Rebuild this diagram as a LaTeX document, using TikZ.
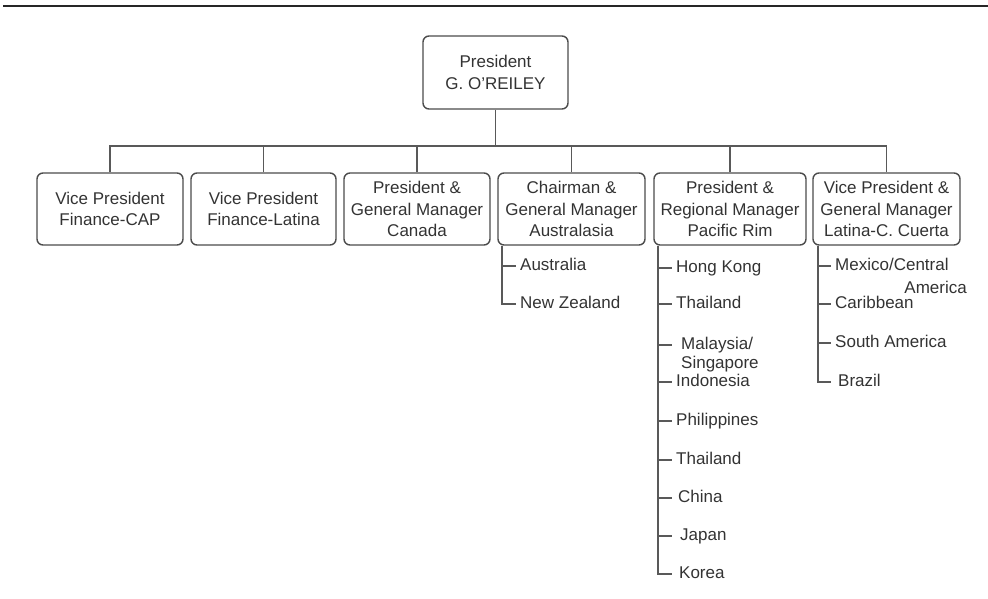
\documentclass[tikz,border=0pt]{standalone}
\usepackage{fontspec}
\setmainfont{Liberation Sans}
\begin{document}
\begin{tikzpicture}[x=1pt,y=-1pt,
  txt/.style={font=\fontsize{17}{21.5}\selectfont, text=black!80},
  box/.style={txt, draw=black!70, line width=1.4pt, rounded corners=6pt, align=center, inner sep=0pt, minimum height=72pt},
  conn/.style={draw=black!65, line width=1.3pt},
  item/.style={txt, anchor=west, inner xsep=4pt, inner ysep=0pt, text height=12pt, text depth=3pt}]
\useasboundingbox (0,0) rectangle (988,599);
\draw[line width=2.4pt, black!85] (3,6) -- (988,6);

\node[box, minimum width=145pt, minimum height=73pt] (top) at (495.5,72.5) {President\\G. O'REILEY};

\node[box, minimum width=146pt] (b1) at (110,209) {Vice President\\Finance-CAP};
\node[box, minimum width=145pt] (b2) at (263.5,209) {Vice President\\Finance-Latina};
\node[box, minimum width=146pt] (b3) at (417,209) {President \&\\General Manager\\Canada};
\node[box, minimum width=147pt] (b4) at (571.5,209) {Chairman \&\\General Manager\\Australasia};
\node[box, minimum width=152pt] (b5) at (730,209) {President \&\\Regional Manager\\Pacific Rim};
\node[box, minimum width=147pt] (b6) at (886.5,209) {Vice President \&\\General Manager\\Latina-C. Cuerta};

\coordinate (bus) at (0,146);
\draw[conn] (top.south) -- (top.south |- bus);
\draw[conn] (b1.north) -- (b1.north |- bus) -- (b6.north |- bus) -- (b6.north);
\foreach \b in {b2,b3,b4,b5} \draw[conn] (\b.north) -- (\b.north |- bus);

% Australasia
\coordinate (ta) at (502,0);
\node[item] (au) at (516,266) {Australia};
\node[item] (nz) at (516,304) {New Zealand};
\draw[conn] (b4.south -| ta) |- (nz.west);
\draw[conn] (ta |- au.west) -- (au.west);

% Pacific Rim
\coordinate (tp) at (658,0);
\node[item] (hk) at (672,268) {Hong Kong};
\node[item] (th1) at (672,304) {Thailand};
\node[item, inner xsep=9pt] (my) at (672,345) {Malaysia/};
\node[item, inner xsep=9pt] (sg) at (672,364) {Singapore};
\node[item] (id) at (672,382) {Indonesia};
\node[item] (ph) at (672,421) {Philippines};
\node[item] (th2) at (672,460) {Thailand};
\node[item, inner xsep=6pt] (cn) at (672,498) {China};
\node[item, inner xsep=8pt] (jp) at (672,536) {Japan};
\node[item, inner xsep=7pt] (kr) at (672,574) {Korea};
\draw[conn] (b5.south -| tp) |- (kr.west);
\foreach \n in {hk,th1,my,id,ph,th2,cn,jp} \draw[conn] (tp |- \n.west) -- (\n.west);

% Latina
\coordinate (tl) at (818,0);
\node[item] (mx) at (831,266) {Mexico/Central};
\node[txt, anchor=east, inner sep=0pt] (am) at (967,287) {America};
\node[item] (cb) at (831,304) {Caribbean};
\node[item] (sa) at (831,343) {South America};
\node[item, inner xsep=7pt] (br) at (831,382) {Brazil};
\draw[conn] (b6.south -| tl) |- (br.west);
\foreach \n in {mx,cb,sa} \draw[conn] (tl |- \n.west) -- (\n.west);
\end{tikzpicture}
\end{document}
